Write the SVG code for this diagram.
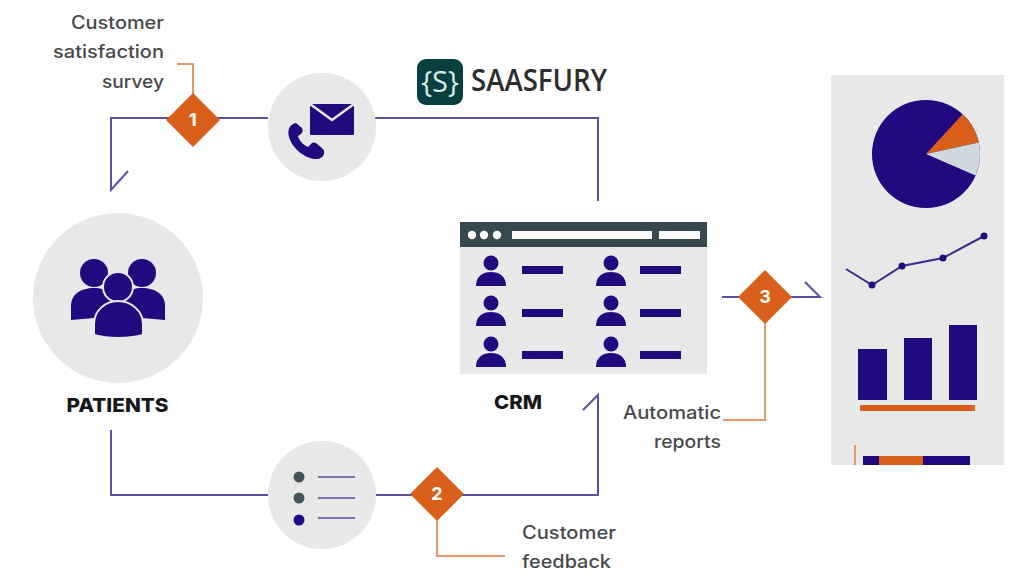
<svg xmlns="http://www.w3.org/2000/svg" width="1024" height="576" viewBox="0 0 1024 576">
  <style>
    .flow { fill: none; stroke: #5c4fa3; stroke-width: 2; }
    .lead { fill: none; stroke: #e59a6c; stroke-width: 2; }
    .disc { fill: #e8e8e9; }
    .ink { fill: #21097f; }
    .step { fill: #d9601a; }
    .stepnum { font: 700 18px "Inter", "Liberation Sans", sans-serif; fill: #fff; text-anchor: middle; }
    .note { font: 500 18px "Inter", "Noto Sans", sans-serif; fill: #47494c; }
    .end { text-anchor: end; }
    .title { font: 800 19px "Inter", "Liberation Sans", sans-serif; fill: #17181a; text-anchor: middle; }
    .rule { stroke: #7a70b4; stroke-width: 2; fill: none; }
  </style>
  <defs>
    <g id="person">
      <circle cx="0" cy="-9" r="7.500" class="ink"/>
      <path d="M-15 14 C-15 4 -8 0 0 0 C8 0 15 4 15 14 Z" class="ink"/>
    </g>
    <clipPath id="panel-clip"><rect x="831" y="75" width="173" height="390"/></clipPath>
  </defs>
  <rect width="1024" height="576" fill="#fff"/>

  <g id="connectors">
    <path class="flow" d="M268 118H111V190L128 171"/>
    <path class="flow" d="M375 118H598V201"/>
    <path class="flow" d="M111 430V495H268"/>
    <path class="flow" d="M375 495H598V395L583 410"/>
    <path class="flow" d="M722 297H820L805 282M820 297H800"/>
    <path class="lead" d="M177 64H193V96"/>
    <path class="lead" d="M437 520V556H505"/>
    <path class="lead" d="M765 322V420H723"/>
  </g>

  <g id="logo">
    <rect x="417" y="59" width="46" height="46" rx="9" fill="#07403f"/>
    <text x="440" y="92" font-family="'Open Sans','Noto Sans',sans-serif" font-size="29" fill="#d5ece6" text-anchor="middle">{S}</text>
    <text x="471" y="91" font-family="'Open Sans','Noto Sans',sans-serif" font-size="31" font-weight="600" fill="#2c2e30" textLength="136" lengthAdjust="spacingAndGlyphs">SAASFURY</text>
  </g>

  <g id="patients">
    <circle class="disc" cx="118" cy="298" r="85"/>
    <circle class="ink" cx="94" cy="273" r="14"/>
    <circle class="ink" cx="142" cy="273" r="14"/>
    <path class="ink" d="M71 320V306C71 294 81 288 94 288C107 288 117 294 117 306V316L71 320Z"/>
    <path class="ink" d="M165 320V306C165 294 155 288 142 288C129 288 119 294 119 306V316L165 320Z"/>
    <circle class="ink" cx="118" cy="287" r="15" stroke="#e8e8e9" stroke-width="2"/>
    <path class="ink" stroke="#e8e8e9" stroke-width="2" d="M94 335V324C94 311 105 301 118 301C131 301 143 311 143 324V335C128 339 108 339 94 335Z"/>
    <text class="title" x="117.500" y="412" textLength="102" lengthAdjust="spacingAndGlyphs">PATIENTS</text>
  </g>

  <g id="contact-channels">
    <circle class="disc" cx="322" cy="127" r="54"/>
    <rect class="ink" x="310" y="104" width="44" height="31"/>
    <path d="M310 104L332 120L354 104" fill="none" stroke="#e8e8e9" stroke-width="2.500"/>
    <path class="ink" d="M296 123C290 124 287 130 289 137C293 150 307 160 318 159C323 158 326 153 323 149L316 143C314 142 312 142 310 145L308 147C303 145 299 140 298 136L301 134C303 132 303 130 302 128Z"/>
  </g>

  <g id="feedback-form">
    <circle class="disc" cx="322" cy="495" r="54"/>
    <circle cx="299" cy="477" r="5.500" fill="#46555a"/>
    <circle cx="299" cy="498" r="5.500" fill="#46555a"/>
    <circle class="ink" cx="299" cy="520" r="5.500"/>
    <path class="rule" d="M318 477H355M318 498H355M318 518H355"/>
  </g>

  <g id="crm">
    <rect x="460" y="222" width="247" height="152" fill="#e8e8e9"/>
    <rect x="460" y="222" width="247" height="25" fill="#37494f"/>
    <circle cx="472" cy="235" r="4.200" fill="#fff"/>
    <circle cx="484" cy="235" r="4.200" fill="#fff"/>
    <circle cx="497" cy="235" r="4.200" fill="#fff"/>
    <rect x="512" y="231" width="140" height="8" fill="#fff"/>
    <rect x="659" y="231" width="41" height="8" fill="#fff"/>
    <use href="#person" x="491" y="272"/>
    <use href="#person" x="491" y="312"/>
    <use href="#person" x="491" y="353"/>
    <use href="#person" x="611" y="272"/>
    <use href="#person" x="611" y="312"/>
    <use href="#person" x="611" y="353"/>
    <rect class="ink" x="522" y="266" width="41" height="8"/>
    <rect class="ink" x="522" y="309" width="41" height="8"/>
    <rect class="ink" x="522" y="351" width="41" height="8"/>
    <rect class="ink" x="640" y="266" width="41" height="8"/>
    <rect class="ink" x="640" y="309" width="41" height="8"/>
    <rect class="ink" x="640" y="351" width="41" height="8"/>
    <text class="title" x="518" y="409" textLength="48" lengthAdjust="spacingAndGlyphs">CRM</text>
  </g>

  <g id="step-1">
    <path class="step" d="M193 93L220 120L193 147L166 120Z"/>
    <text class="stepnum" x="193" y="126">1</text>
    <text class="note end" x="164" y="29" textLength="93" lengthAdjust="spacingAndGlyphs">Customer</text>
    <text class="note end" x="164" y="58" textLength="111" lengthAdjust="spacingAndGlyphs">satisfaction</text>
    <text class="note end" x="164" y="88" textLength="62" lengthAdjust="spacingAndGlyphs">survey</text>
  </g>

  <g id="step-2">
    <path class="step" d="M437 467L464 494L437 521L410 494Z"/>
    <text class="stepnum" x="437" y="500">2</text>
    <text class="note" x="522" y="539" textLength="94" lengthAdjust="spacingAndGlyphs">Customer</text>
    <text class="note" x="522" y="568" textLength="89" lengthAdjust="spacingAndGlyphs">feedback</text>
  </g>

  <g id="step-3">
    <path class="step" d="M765 270L792 297L765 324L738 297Z"/>
    <text class="stepnum" x="765" y="303">3</text>
    <text class="note end" x="721" y="419" textLength="98" lengthAdjust="spacingAndGlyphs">Automatic</text>
    <text class="note end" x="721" y="448" textLength="67" lengthAdjust="spacingAndGlyphs">reports</text>
  </g>

  <g id="reports">
    <rect x="831" y="75" width="173" height="390" fill="#e8e8e9"/>
    <circle class="ink" cx="926" cy="154" r="54"/>
    <path class="step" d="M926 154L962.600 114.300A54 54 0 0 1 978.800 142.600Z"/>
    <path fill="#cfd8dc" d="M926 154L978.800 142.600A54 54 0 0 1 975.500 175.600Z"/>
    <path d="M846 269L872 285L902 266L943 258L984 236" fill="none" stroke="#3a2a8c" stroke-width="2"/>
    <circle class="ink" cx="872" cy="285" r="3.500"/>
    <circle class="ink" cx="902" cy="266" r="3.500"/>
    <circle class="ink" cx="943" cy="258" r="3.500"/>
    <circle class="ink" cx="984" cy="236" r="3.500"/>
    <rect class="ink" x="858" y="349" width="29" height="51"/>
    <rect class="ink" x="904" y="338" width="28" height="62"/>
    <rect class="ink" x="949" y="325" width="28" height="75"/>
    <rect class="step" x="860" y="405" width="115" height="6"/>
    <g clip-path="url(#panel-clip)">
      <rect class="ink" x="863" y="456" width="107" height="12"/>
      <rect class="step" x="879" y="456" width="44" height="12"/>
      <rect x="854" y="445" width="2" height="23" fill="#e59a6c"/>
    </g>
  </g>
</svg>
